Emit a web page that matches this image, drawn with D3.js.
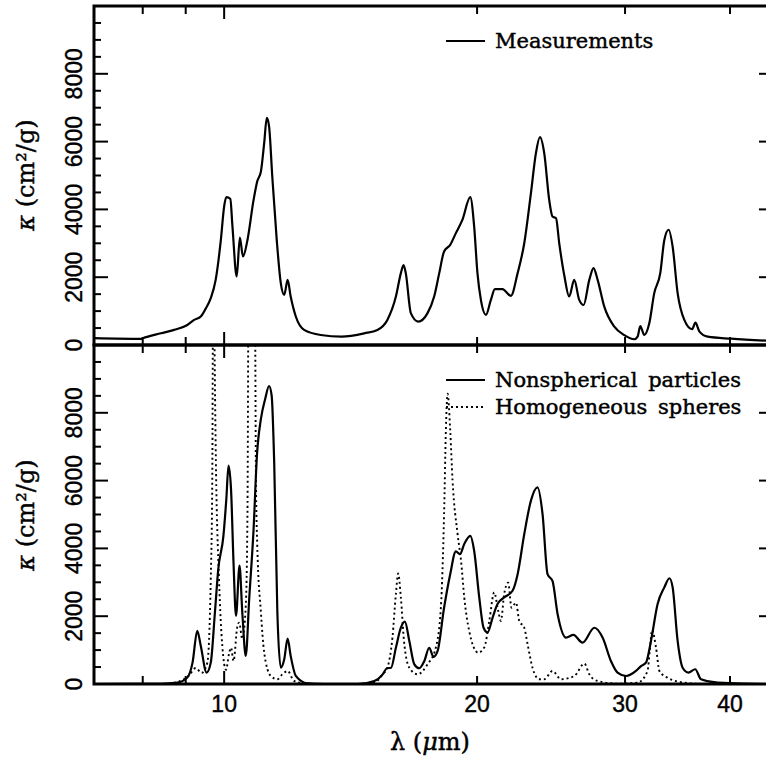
<!DOCTYPE html>
<html>
<head>
<meta charset="utf-8">
<script src="https://cdn.jsdelivr.net/npm/d3@7"></script>
<style>
  html, body { margin: 0; padding: 0; background: #fff; }
  svg { display: block; }
  .num { font-family: "Liberation Sans", Arial, sans-serif; font-size: 23px; fill: #000; stroke: #000; stroke-width: 0.4px; }
  .ttl { font-family: "DejaVu Serif", serif; font-size: 21px; fill: #000; stroke: #000; stroke-width: 0.45px; }
</style>
</head>
<body>
<div id="chart"></div>
<script>
// wavelength ticks (log axis) and kappa ticks
const lambdaTicks = [8, 9, 10, 20, 30, 40];
const lambdaMajor = [10];
const lambdaLabels = [10, 20, 30, 40];
const kappaLabels = [0, 2000, 4000, 6000, 8000];

// top panel: measured opacity
const measLambda = [7.0, 7.96, 8.0, 8.41, 8.72, 9.04, 9.21, 9.38, 9.51, 9.64, 9.77, 9.91, 10.0, 10.06, 10.17, 10.23, 10.35, 10.44, 10.53, 10.66, 10.84, 10.95, 11.06, 11.16, 11.24, 11.31, 11.41, 11.55, 11.68, 11.79, 11.9, 12.0, 12.17, 12.45, 13.03, 13.8, 14.68, 15.22, 15.64, 16.01, 16.23, 16.35, 16.45, 16.68, 17.02, 17.46, 17.78, 18.03, 18.27, 18.58, 18.87, 19.21, 19.63, 19.84, 20.02, 20.21, 20.49, 20.77, 21.0, 21.44, 21.94, 22.35, 22.76, 23.18, 23.5, 23.76, 24.04, 24.37, 24.59, 24.83, 25.05, 25.4, 25.74, 26.1, 26.46, 26.78, 27.2, 27.52, 27.83, 28.34, 29.13, 29.94, 30.78, 31.05, 31.28, 31.62, 32.06, 32.5, 33.04, 33.41, 33.81, 34.18, 34.65, 35.29, 36.06, 36.38, 36.79, 37.63, 40.11, 44.31, 45];
const measKappa = [200, 180, 200, 345, 445, 590, 740, 840, 1080, 1380, 1920, 3100, 4090, 4360, 4310, 3500, 2020, 3170, 2610, 3100, 4280, 4830, 5120, 5960, 6700, 6450, 4970, 3100, 1820, 1480, 1920, 1430, 840, 445, 295, 250, 345, 445, 740, 1430, 2120, 2360, 2120, 940, 690, 940, 1430, 2120, 2760, 2955, 3300, 3690, 4360, 3500, 2120, 1330, 890, 1330, 1650, 1650, 1450, 2120, 3000, 4480, 5660, 6130, 5660, 4280, 3790, 3740, 3000, 2050, 1430, 1920, 1330, 1180, 1920, 2270, 1920, 1130, 540, 290, 170, 245, 560, 295, 640, 1530, 2120, 3100, 3400, 2900, 1530, 740, 465, 660, 395, 245, 186, 127, 120];

// bottom panel: nonspherical particles (solid)
const nonsphLambda = [7.0, 8.41, 8.8, 9.04, 9.17, 9.29, 9.38, 9.53, 9.64, 9.75, 9.84, 9.98, 10.06, 10.12, 10.19, 10.26, 10.33, 10.43, 10.51, 10.61, 10.71, 10.84, 10.94, 11.06, 11.19, 11.31, 11.39, 11.47, 11.57, 11.68, 11.79, 11.9, 12.0, 12.17, 12.56, 13.15, 14.41, 15.09, 15.44, 15.62, 15.8, 16.01, 16.23, 16.41, 16.61, 16.84, 17.07, 17.31, 17.54, 17.75, 17.95, 18.27, 18.58, 18.87, 19.08, 19.31, 19.63, 19.84, 20.12, 20.36, 20.58, 20.87, 21.15, 21.54, 22.04, 22.35, 22.76, 23.18, 23.6, 23.93, 24.26, 24.59, 24.94, 25.52, 26.04, 26.7, 27.58, 28.21, 28.86, 29.39, 30.08, 30.91, 31.34, 31.77, 32.21, 32.8, 33.41, 33.88, 34.18, 34.65, 35.13, 35.7, 36.36, 36.94, 38.67, 44.3, 45];
const nonsphKappa = [0, 5, 40, 190, 630, 1570, 1120, 335, 630, 2110, 3390, 4370, 5460, 6440, 5750, 3580, 2010, 3490, 2110, 830, 2500, 4570, 6740, 7820, 8410, 8790, 8510, 6540, 2110, 480, 730, 1340, 830, 240, 20, 0, 0, 90, 285, 465, 480, 1070, 1660, 1840, 1270, 580, 465, 680, 1070, 800, 975, 2250, 3240, 3910, 3830, 4130, 4370, 3930, 2550, 1660, 1520, 1960, 2360, 2550, 2750, 3240, 4420, 5410, 5800, 5010, 3240, 3040, 2060, 1370, 1450, 1220, 1660, 1370, 680, 335, 236, 385, 530, 630, 1270, 2360, 2850, 3120, 2850, 1270, 480, 335, 435, 140, 40, 0, 0];

// bottom panel: homogeneous spheres (dotted)
const sphLambda = [7.0, 8.5, 8.8, 9.08, 9.25, 9.4, 9.55, 9.64, 9.68, 9.71, 9.74, 9.77, 9.86, 9.95, 10.05, 10.14, 10.19, 10.26, 10.37, 10.42, 10.51, 10.61, 10.66, 10.69, 10.78, 10.88, 10.91, 10.95, 11.06, 11.16, 11.36, 11.57, 11.73, 11.9, 12.11, 12.5, 13.2, 14.4, 15.09, 15.44, 15.64, 15.86, 16.01, 16.11, 16.23, 16.37, 16.61, 16.99, 17.46, 17.86, 18.11, 18.27, 18.36, 18.45, 18.58, 18.7, 18.96, 19.14, 19.31, 19.57, 20.06, 20.4, 20.68, 20.96, 21.19, 21.35, 21.54, 21.78, 21.98, 22.25, 22.45, 22.76, 22.97, 23.28, 23.71, 24.04, 24.59, 25.17, 26.1, 26.84, 27.2, 27.83, 29.39, 31.05, 31.91, 32.1, 32.3, 32.66, 32.96, 33.71, 35.29, 37.0, 45];
const sphKappa = [0, 0, 60, 250, 470, 330, 630, 3100, 6060, 14000, 10000, 7040, 3100, 1120, 420, 925, 1070, 680, 1710, 1810, 1330, 2300, 5060, 12000, 18000, 12000, 6060, 4080, 2110, 925, 240, 140, 290, 385, 90, 10, 0, 0, 40, 285, 480, 1370, 2650, 3260, 2550, 1270, 480, 285, 580, 1070, 2250, 5010, 7480, 8560, 7480, 6000, 4420, 3630, 2550, 1570, 925, 1080, 1860, 2700, 2160, 1860, 2650, 2990, 2250, 2400, 1860, 1660, 1170, 480, 140, 140, 385, 140, 236, 600, 285, 90, 10, 40, 385, 975, 1590, 1070, 385, 185, 40, 0, 0];

const W = 766, H = 757;
const left = 94, right = 773;
const panels = [
  { top: 6, bottom: 345, labels: kappaLabels, legend: [["Measurements", null]], series: [[measLambda, measKappa, null]], titleY: 175 },
  { top: 345, bottom: 684, labels: kappaLabels, legend: [["Nonspherical particles", null], ["Homogeneous spheres", "2,3"]], series: [[nonsphLambda, nonsphKappa, null], [sphLambda, sphKappa, "2,3"]], titleY: 515 }
];

const svg = d3.select("#chart").append("svg").attr("width", W).attr("height", H);

const x = d3.scaleLog().domain([7, 45]).range([left, right]);

panels.forEach((p, i) => {
  const y = d3.scaleLinear().domain([0, 10000]).range([p.bottom, p.top]);
  const g = svg.append("g");

  const clipId = "clip" + i;
  svg.append("clipPath").attr("id", clipId)
    .append("rect").attr("x", left).attr("y", p.top).attr("width", right - left).attr("height", p.bottom - p.top);

  const line = d3.line().x(d => x(d[0])).y(d => y(d[1])).curve(d3.curveMonotoneX);
  p.series.forEach(s => {
    const pts = s[0].map((l, k) => [l, s[1][k]]);
    g.append("path").datum(pts)
      .attr("clip-path", "url(#" + clipId + ")")
      .attr("d", line)
      .attr("fill", "none")
      .attr("stroke", "#000")
      .attr("stroke-width", s[2] ? 1.9 : 2.2)
      .attr("stroke-dasharray", s[2])
      .attr("stroke-linejoin", "round");
  });

  // x ticks along the top and bottom of the panel, pointing inward
  lambdaTicks.forEach(t => {
    const len = lambdaMajor.includes(t) ? 13 : 8;
    g.append("line").attr("x1", x(t)).attr("x2", x(t)).attr("y1", p.top).attr("y2", p.top + len)
      .attr("stroke", "#000").attr("stroke-width", 2);
    g.append("line").attr("x1", x(t)).attr("x2", x(t)).attr("y1", p.bottom).attr("y2", p.bottom - len)
      .attr("stroke", "#000").attr("stroke-width", 2);
  });

  // y ticks, left and right
  d3.range(500, 10000, 500).forEach(v => {
    const len = v % 2000 === 0 ? 14 : 7;
    g.append("line").attr("x1", left).attr("x2", left + len).attr("y1", y(v)).attr("y2", y(v))
      .attr("stroke", "#000").attr("stroke-width", 2);
    g.append("line").attr("x1", right).attr("x2", right - len).attr("y1", y(v)).attr("y2", y(v))
      .attr("stroke", "#000").attr("stroke-width", 2);
  });

  g.append("rect").attr("x", left).attr("y", p.top).attr("width", right - left).attr("height", p.bottom - p.top)
    .attr("fill", "none").attr("stroke", "#000").attr("stroke-width", 3);

  g.selectAll("text.ylab").data(p.labels).enter().append("text")
    .attr("class", "num")
    .attr("text-anchor", "middle")
    .attr("transform", d => "translate(82," + y(d) + ") rotate(-90)")
    .text(d => d);

  const t = g.append("text").attr("class", "ttl").attr("text-anchor", "middle")
    .style("font-size", "24px")
    .attr("transform", "translate(34," + p.titleY + ") rotate(-90)");
  t.append("tspan").attr("font-style", "italic").text("κ");
  t.append("tspan").text(" (cm²/g)");

  // legend
  p.legend.forEach((e, k) => {
    const ly = p.top + 35 + k * 27;
    g.append("line").attr("x1", 446).attr("x2", 485).attr("y1", ly).attr("y2", ly)
      .attr("stroke", "#000").attr("stroke-width", e[1] ? 1.9 : 2).attr("stroke-dasharray", e[1]);
    g.append("text").attr("class", "ttl").attr("x", 495).attr("y", ly + 7).attr("word-spacing", "4px").text(e[0]);
  });
});

svg.selectAll("text.xlab").data(lambdaLabels).enter().append("text")
  .attr("class", "num")
  .attr("text-anchor", "middle")
  .attr("x", d => x(d)).attr("y", 712)
  .text(d => d);

const xt = svg.append("text").attr("class", "ttl").attr("text-anchor", "middle")
  .attr("x", 430).attr("y", 750).style("font-size", "24px");
xt.append("tspan").text("λ (");
xt.append("tspan").attr("font-style", "italic").text("μ");
xt.append("tspan").text("m)");
</script>
</body>
</html>
